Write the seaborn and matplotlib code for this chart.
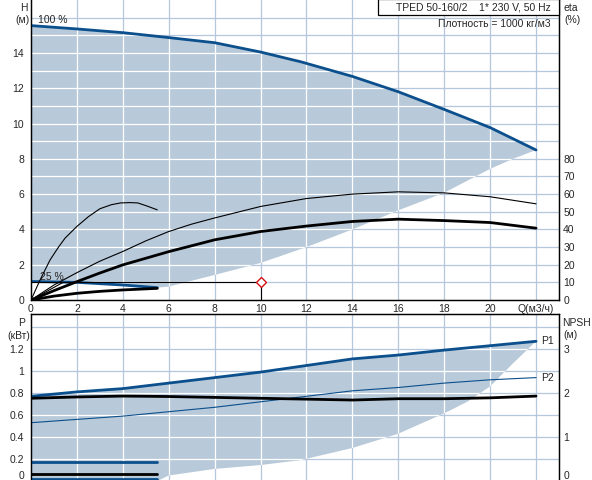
import matplotlib.pyplot as plt
import matplotlib.transforms as mtransforms
import seaborn as sns
import numpy as np
from matplotlib.patches import Rectangle

# --- data ---
# H(Q) at 100 % speed
q_h100 = [0, 2, 4, 6, 8, 10, 11.75, 14, 16, 18, 20, 22]
h_100 = [15.55, 15.36, 15.15, 14.87, 14.58, 14.05, 13.5, 12.67, 11.8, 10.8, 9.77, 8.5]
# H(Q) at 25 % speed
q_h25 = [0, 2, 4, 5.5]
h_25 = [1.05, 1.0, 0.85, 0.7]
# lower edge of the operating range
q_hlow = [5.5, 6, 8, 10, 12, 14, 16, 18, 20, 21, 22]
h_low = [0.7, 0.76, 1.42, 2.1, 3.0, 4.0, 5.08, 6.08, 7.43, 8.0, 8.5]

# efficiency curves (%)
q_eta = [0, 1, 2, 3, 4, 5, 6, 7, 8, 10, 12, 14, 16, 18, 20, 22]
eta_hyd = [0, 8.5, 15.5, 22, 27.5, 33.5, 38.8, 43, 46.5, 53, 57.5, 60, 61.3, 60.7, 58.5, 54.5]
q_eta_tot = [0, 1, 2, 3, 4, 6, 8, 10, 12, 14, 16, 18, 20, 22]
eta_tot = [0, 5.3, 10.4, 15.3, 19.9, 27.4, 34.1, 38.8, 41.9, 44.5, 45.8, 45.0, 43.9, 40.7]
q_eta25 = [0, 0.4, 0.83, 1.2, 1.48, 2.0, 2.5, 3.0, 3.5, 3.9, 4.3, 4.65, 5.0, 5.5]
eta_hyd25 = [0, 11.5, 22.7, 30, 35, 41.7, 47.2, 51.7, 54, 55, 55.2, 55, 53.5, 51.1]
q_eta_tot25 = [0, 1, 2, 3, 4, 5.5]
eta_tot25 = [0, 2.2, 3.8, 4.9, 5.7, 6.6]
q_eta_min = [0, 1.4]
eta_min = [0, 10]

# duty point
q_duty = 10
h_duty = 1.0

# power and NPSH
q_p = [0, 2, 4, 6, 8, 10, 12, 14, 16, 18, 20, 22]
p1 = [0.77, 0.81, 0.84, 0.89, 0.94, 0.99, 1.05, 1.11, 1.145, 1.19, 1.23, 1.27]
p2 = [0.53, 0.56, 0.59, 0.63, 0.67, 0.72, 0.77, 0.82, 0.85, 0.89, 0.92, 0.94]
npsh = [1.88, 1.91, 1.93, 1.92, 1.90, 1.88, 1.86, 1.84, 1.87, 1.87, 1.89, 1.93]
q_p25 = [0, 5.5]
p1_25 = [0.17, 0.17]
p2_25 = [0.015, 0.015]
npsh_25 = [0.15, 0.15]
q_plow = [5.5, 6, 8, 10, 11.75, 14, 16, 18, 19, 20, 21, 22]
p_low = [0, 0.05, 0.11, 0.145, 0.19, 0.30, 0.43, 0.615, 0.72, 0.86, 1.07, 1.27]

blue = '#0b4f8c'
shade = '#b8c9da'
grid_col = '#b4c7dc'

sns.set_style('white')
plt.rcParams['font.family'] = ['Liberation Sans', 'DejaVu Sans']
plt.rcParams['font.size'] = 7.5

W, H = 592, 480
fig = plt.figure(figsize=(W / 100, H / 100), dpi=100)
ax = fig.add_axes([31 / W, 180 / H, 528 / W, 300 / H])
bx = fig.add_axes([31 / W, -1 / H, 528 / W, 167 / H])


def px(x, y):
    return x / W, 1 - y / H


def draw_grid(a, xs, ys, clip):
    for x in xs:
        a.axvline(x, color=grid_col, lw=0.9, zorder=0.5)
        ln = a.axvline(x, color='white', lw=0.9, zorder=1.5)
        ln.set_clip_path(clip)
    for y in ys:
        a.axhline(y, color=grid_col, lw=0.9, zorder=0.5)
        ln = a.axhline(y, color='white', lw=0.9, zorder=1.5)
        ln.set_clip_path(clip)


# ---------- top panel: H and eta ----------
ax.set_xlim(0, 23)
ax.set_ylim(0, 17)
poly_x = np.r_[q_h100, q_hlow[::-1], q_h25[::-1]]
poly_y = np.r_[h_100, h_low[::-1], h_25[::-1]]
top_poly = ax.fill(poly_x, poly_y, color=shade, lw=0, zorder=1)[0]
draw_grid(ax, range(2, 23, 2), range(1, 17), top_poly)

sns.lineplot(x=q_h100, y=h_100, ax=ax, color=blue, linewidth=2.0, sort=False, zorder=3)
sns.lineplot(x=q_h25, y=h_25, ax=ax, color=blue, linewidth=2.0, sort=False, zorder=3)
ax.plot([0, q_duty, q_duty], [h_duty, h_duty, 0], color='black', lw=0.8, zorder=3)
ax.plot([q_duty], [h_duty], marker='D', ms=5, mfc='white', mec='#d01010', mew=1.0, zorder=4)
ax.text(0.3, 15.85, '100 %', ha='left', va='center')
ax.text(0.38, 1.3, '25 %', ha='left', va='center')

ax.set_xticks(range(0, 23, 2))
ax.set_xticklabels([str(v) for v in range(0, 21, 2)] + ['Q(м3/ч)'])
ax.set_yticks(range(0, 16, 2))
ax.tick_params(length=0, pad=3)
ax.tick_params(axis='y', pad=5)
ax.set_xlabel('')
ax.set_ylabel('')

ex = ax.twinx()
ex.set_ylim(0, 170)
sns.lineplot(x=q_eta, y=eta_hyd, ax=ex, color='black', linewidth=0.8, sort=False)
sns.lineplot(x=q_eta_tot, y=eta_tot, ax=ex, color='black', linewidth=2.0, sort=False)
sns.lineplot(x=q_eta25, y=eta_hyd25, ax=ex, color='black', linewidth=0.8, sort=False)
sns.lineplot(x=q_eta_tot25, y=eta_tot25, ax=ex, color='black', linewidth=2.0, sort=False)
sns.lineplot(x=q_eta_min, y=eta_min, ax=ex, color='black', linewidth=0.8, sort=False)
ex.set_yticks(range(0, 90, 10))
ex.tick_params(length=0, pad=3)
ex.set_ylabel('')

for a in (ax, ex):
    a.spines['top'].set_visible(False)
    for s in ('left', 'right', 'bottom'):
        a.spines[s].set_color('black')
        a.spines[s].set_linewidth(0.9)

# ---------- bottom panel: P and NPSH ----------
bx.set_xlim(0, 23)
bx.set_ylim(0, 167 / 110)
bpoly_x = np.r_[q_p, q_plow[::-1], [0]]
bpoly_y = np.r_[p1, p_low[::-1], [0]]
bot_poly = bx.fill(bpoly_x, bpoly_y, color=shade, lw=0, zorder=1)[0]
draw_grid(bx, range(2, 23, 2), np.arange(0.2, 1.5, 0.2), bot_poly)

sns.lineplot(x=q_p, y=p1, ax=bx, color=blue, linewidth=2.0, sort=False, zorder=3)
sns.lineplot(x=q_p, y=p2, ax=bx, color=blue, linewidth=0.8, sort=False, zorder=3)
sns.lineplot(x=q_p25, y=p1_25, ax=bx, color=blue, linewidth=2.0, sort=False, zorder=3)
sns.lineplot(x=q_p25, y=p2_25, ax=bx, color=blue, linewidth=2.0, sort=False, zorder=3)
bx.set_xticks(range(0, 23, 2))
bx.set_xticklabels([])
bx.set_yticks([0, 0.2, 0.4, 0.6, 0.8, 1.0, 1.2])
bx.set_yticklabels(['0', '0.2', '0.4', '0.6', '0.8', '1', '1.2'])
bx.tick_params(length=0, pad=5)
bx.set_ylabel('')

nx = bx.twinx()
nx.set_ylim(0, 167 / 44)
sns.lineplot(x=q_p, y=npsh, ax=nx, color='black', linewidth=2.0, sort=False)
sns.lineplot(x=q_p25, y=npsh_25, ax=nx, color='black', linewidth=2.0, sort=False)
nx.set_yticks([0, 1, 2, 3])
nx.tick_params(length=0, pad=3)
nx.set_ylabel('')

for a in (bx, nx):
    for s in ('left', 'right', 'bottom', 'top'):
        a.spines[s].set_color('black')
        a.spines[s].set_linewidth(0.9)

# lift the clipped zero labels a little
lift = mtransforms.ScaledTranslation(0, 6 / 100, fig.dpi_scale_trans)
for lab in (bx.get_yticklabels()[0], nx.get_yticklabels()[0]):
    lab.set_transform(lab.get_transform() + lift)

bx.text(22.2, 1.27, 'P1', ha='left', va='center')
bx.text(22.2, 0.94, 'P2', ha='left', va='center')

# ---------- axis captions and header ----------
fig.text(*px(24, 8), 'H', ha='center', va='center')
fig.text(*px(22, 20), '(м)', ha='center', va='center')
fig.text(*px(564, 8), 'eta', ha='left', va='center')
fig.text(*px(564, 20), '(%)', ha='left', va='center')
fig.text(*px(22, 323), 'P', ha='center', va='center')
fig.text(*px(19, 336), '(кВт)', ha='center', va='center')
fig.text(*px(562, 323), 'NPSH', ha='left', va='center')
fig.text(*px(563, 335), '(м)', ha='left', va='center')

fig.add_artist(Rectangle(px(378, 15), 181 / W, 16 / H, transform=fig.transFigure,
                         facecolor='white', edgecolor='black', lw=0.9, zorder=5))
fig.text(*px(551, 8), 'TPED 50-160/2    1* 230 V, 50 Hz', ha='right', va='center', zorder=6)
fig.text(*px(551, 24), 'Плотность = 1000 кг/м3', ha='right', va='center', zorder=6)

fig.savefig('out.png', dpi=100)
